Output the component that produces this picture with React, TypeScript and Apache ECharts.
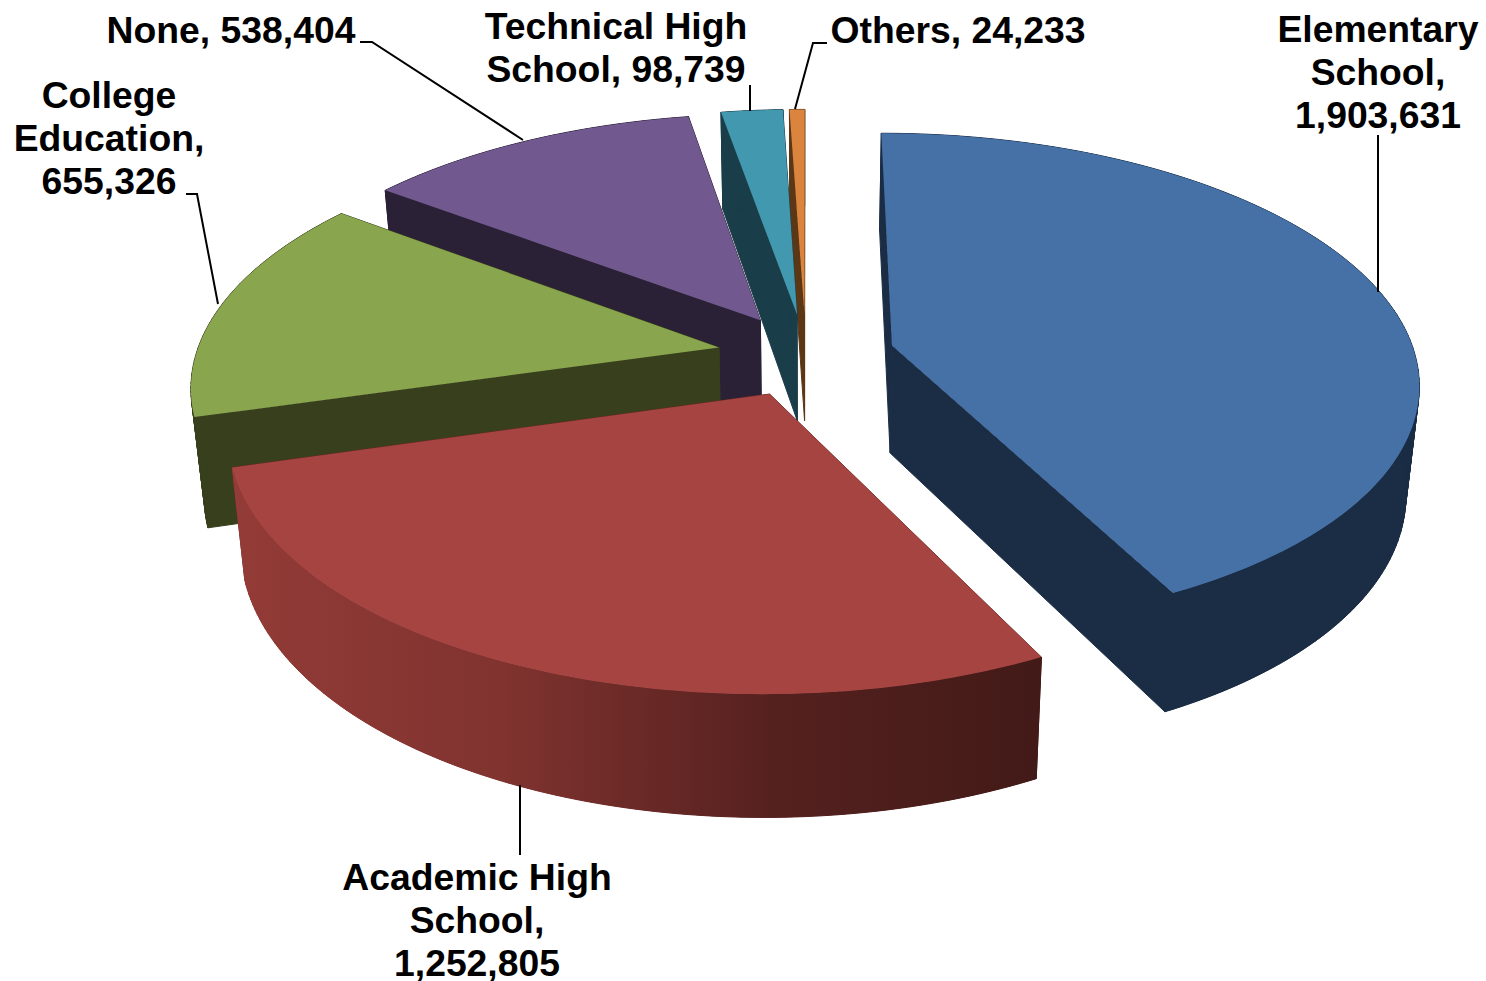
import React, { useEffect, useRef } from "react";
import * as echarts from "echarts";

// ---- data (clockwise from 12 o'clock) ----
const categories = ["Elementary School", "Academic High School", "College Education", "None", "Technical High School", "Others"];
const values = [1903631, 1252805, 655326, 538404, 98739, 24233];
const labelTemplates = [
  "Elementary\nSchool,\n{v}",
  "Academic High\nSchool,\n{v}",
  "College\nEducation,\n{v}",
  "None, {v}",
  "Technical High\nSchool, {v}",
  "Others, {v}",
];
const topColors = ["#4571a7", "#a64441", "#89a54e", "#71588f", "#4198af", "#db843d"];
const wallColors = ["#1b2d45", "#6a2825", "#383f1c", "#2b2137", "#1a3d4a", "#5c3716"];
const redRimRamp = ["#933b37", "#80332f", "#55211f", "#421a17"];

// ---- layout ----
const paintOrder = [4, 5, 3, 2, 1, 0]; // painter's rank per slice (dataIndex -> z)
const labelPos: [number, number][] = [[1378, 72], [477, 920], [109, 137.5], [231, 30], [616, 47], [958, 30]];
const leaders: number[][][] = [
  [[1378, 135], [1378, 292]],
  [[520, 785], [520, 855]],
  [[186, 194], [197, 194], [218, 304]],
  [[360, 42], [372, 42], [523, 140]],
  [[750, 85], [750, 111]],
  [[827, 43], [813, 43], [795, 109]],
];
const CX = 806, CY = 355, SCALE_X = 523, SCALE_Y = 245, DIST = 7, EXPLODE = 0.17;
const BASE_SHRINK = 0.978, DEPTH = 108, DEPTH_GROW = 0.045;

const total = values.reduce((a, b) => a + b, 0);
const starts: number[] = [];
values.reduce((acc, v) => { starts.push(acc); return acc + v; }, 0);
const toAngle = (v: number) => (v / total) * Math.PI * 2;

function top(X: number, Y: number): number[] {
  const s = 1 / (1 - Y / DIST);
  return [CX + SCALE_X * X * s, CY + SCALE_Y * Y * s];
}
function bottom(p: number[]): number[] {
  return [CX + (p[0] - CX) * BASE_SHRINK, p[1] + DEPTH + DEPTH_GROW * (p[1] - CY)];
}

const renderItem = (params: any, api: any) => {
  const i = params.dataIndex;
  const a0 = toAngle(starts[i]);
  const a1 = a0 + toAngle(api.value(0));
  const mid = (a0 + a1) / 2;
  const X0 = EXPLODE * Math.sin(mid);
  const Y0 = -EXPLODE * Math.cos(mid);
  const apex = top(X0, Y0);
  const n = Math.max(2, Math.ceil((a1 - a0) / (Math.PI / 180)));
  const arc: number[][] = [];
  for (let k = 0; k <= n; k++) {
    const t = a0 + ((a1 - a0) * k) / n;
    arc.push(top(X0 + Math.sin(t), Y0 - Math.cos(t)));
  }
  const z = paintOrder[i] * 10;
  const poly = (points: number[][], fill: any, z2: number, edge = true) => ({
    type: "polygon",
    z2,
    shape: { points },
    style: edge ? { fill, stroke: fill, lineWidth: 1 } : { fill },
    silent: true,
  });
  const xs = arc.map((p) => p[0]);
  const minX = Math.min(...xs);
  const maxX = Math.max(...xs);
  const strips: any[] = [];
  for (let k = 0; k < n; k++) {
    const p = arc[k];
    const q = arc[k + 1];
    const fill =
      i === 1
        ? echarts.color.lerp(((p[0] + q[0]) / 2 - minX) / (maxX - minX), redRimRamp)
        : wallColors[i];
    strips.push(poly([p, q, bottom(q), bottom(p)], fill, z + 3));
  }
  const under =
    i === 1
      ? new echarts.graphic.LinearGradient(0, 0, 1, 0, redRimRamp.map((color, k) => ({ offset: k / (redRimRamp.length - 1), color })))
      : wallColors[i];
  const first = arc[0];
  const last = arc[arc.length - 1];
  return {
    type: "group",
    children: [
      poly([apex, first, bottom(first), bottom(apex)], wallColors[i], z + 1),
      poly([apex, last, bottom(last), bottom(apex)], wallColors[i], z + 2),
      ...strips,
      poly(arc.concat(arc.map(bottom).reverse()), under, z + 3.5, false),
      poly([apex, ...arc], topColors[i], z + 4, false),
      {
        type: "polyline",
        z2: 200,
        silent: true,
        shape: { points: leaders[i] },
        style: { stroke: "#000000", lineWidth: 2, fill: "none" },
      },
      {
        type: "text",
        z2: 201,
        silent: true,
        style: {
          text: labelTemplates[i].replace("{v}", api.value(0).toLocaleString("en-US")),
          x: labelPos[i][0],
          y: labelPos[i][1],
          align: "center",
          verticalAlign: "middle",
          fill: "#000000",
          fontFamily: '"Liberation Sans", Arial, sans-serif',
          fontWeight: "bold",
          fontSize: 37.3,
          lineHeight: 43,
        },
      },
    ],
  };
};

export default function App() {
  const ref = useRef<HTMLDivElement>(null);
  useEffect(() => {
    const chart = echarts.init(ref.current!, null, { renderer: "svg" });
    chart.setOption({
      animation: false,
      backgroundColor: "#ffffff",
      series: [
        {
          type: "custom",
          coordinateSystem: "none",
          renderItem,
          data: values.map((v, i) => ({ name: categories[i], value: [v] })),
          silent: true,
        },
      ],
    });
    return () => chart.dispose();
  }, []);
  return <div ref={ref} style={{ position: "fixed", left: 0, top: 0, width: 1486, height: 981 }} />;
}
